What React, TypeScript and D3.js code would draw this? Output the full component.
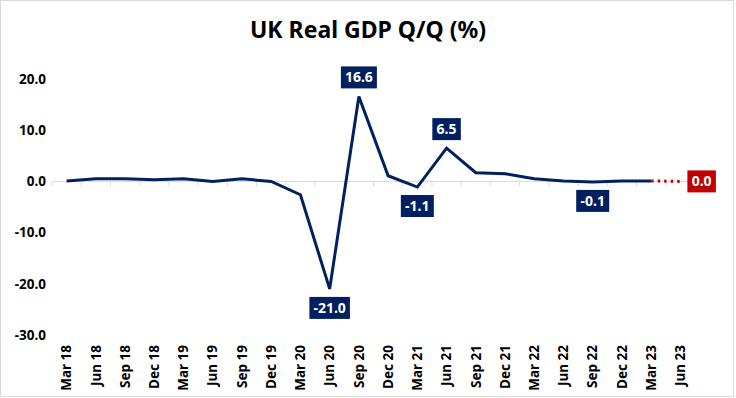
import React from 'react';
import * as d3 from 'd3';

// quarters shown on the axis
const quarters = [
  'Mar 18', 'Jun 18', 'Sep 18', 'Dec 18',
  'Mar 19', 'Jun 19', 'Sep 19', 'Dec 19',
  'Mar 20', 'Jun 20', 'Sep 20', 'Dec 20',
  'Mar 21', 'Jun 21', 'Sep 21', 'Dec 21',
  'Mar 22', 'Jun 22', 'Sep 22', 'Dec 22',
  'Mar 23', 'Jun 23',
];

// actual Q/Q growth, Mar 18 .. Mar 23
const gdpActual = [
  0.1, 0.5, 0.5, 0.3, 0.5, 0.0, 0.5, 0.0,
  -2.6, -21.0, 16.6, 1.1, -1.1, 6.5, 1.7, 1.5,
  0.5, 0.1, -0.1, 0.1, 0.1,
];

// forecast segment (Mar 23 -> Jun 23)
const forecastQuarters = ['Mar 23', 'Jun 23'];
const forecastValues = [0.1, 0.0];

// points that get a value box
const labelledQuarters = ['Jun 20', 'Sep 20', 'Mar 21', 'Jun 21', 'Sep 22'];

const yTicks = [20, 10, 0, -10, -20, -30];

const W = 736;
const H = 398;
const NAVY = '#002060';
const RED = '#C00000';
const FONT = '"Noto Sans", "Open Sans", sans-serif';

// rough width of bold label text
const textWidth = (s: string) =>
  s.split('').reduce((acc, ch) => acc + (ch === '.' ? 3.5 : ch === '-' ? 4.5 : 7.5), 0);

export default function App() {
  const x = d3.scaleBand().domain(quarters).range([52, 695]).padding(0);
  const cx = (q: string) => (x(q) as number) + x.bandwidth() / 2;
  const y = d3.scaleLinear().domain([-30, 20]).range([335, 79]);

  const line = d3
    .line<number>()
    .x((d, i) => cx(quarters[i]))
    .y((d) => y(d));

  const fLine = d3
    .line<number>()
    .x((d, i) => cx(forecastQuarters[i]))
    .y((d) => y(d));

  const boundaries = quarters.map((q) => x(q) as number).concat([695]);

  const boxH = 22;
  const gap = 8;

  return (
    <svg
      width={W}
      height={H}
      style={{ position: 'absolute', left: 0, top: 0, background: '#fff' }}
      fontFamily={FONT}
    >
      <rect x={0.5} y={0.5} width={W - 3} height={H - 2} fill="#fff" stroke="#d9d9d9" />

      {/* title */}
      <text x={368} y={38} textAnchor="middle" fontSize={23} fontWeight="bold" fill="#000">
        UK Real GDP Q/Q (%)
      </text>

      {/* y axis labels */}
      {yTicks.map((t) => (
        <text
          key={t}
          x={46}
          y={y(t)}
          dy="0.35em"
          textAnchor="end"
          fontSize={13.5}
          fontWeight="bold"
          fill="#000"
        >
          {t.toFixed(1)}
        </text>
      ))}

      {/* zero axis and ticks */}
      <line x1={52} x2={695} y1={y(0)} y2={y(0)} stroke="#d9d9d9" strokeWidth={1} />
      {boundaries.map((b, i) => (
        <line key={i} x1={b} x2={b} y1={y(0)} y2={y(0) + 5} stroke="#d9d9d9" />
      ))}

      {/* x labels */}
      {quarters.map((q) => (
        <text
          key={q}
          transform={`translate(${cx(q)},345) rotate(-90)`}
          dy="0.35em"
          textAnchor="end"
          fontSize={13.5}
          fontWeight="bold"
          fill="#000"
        >
          {q}
        </text>
      ))}

      {/* series */}
      <path d={line(gdpActual) || ''} fill="none" stroke={NAVY} strokeWidth={3} strokeLinejoin="miter" />
      <path
        d={fLine(forecastValues) || ''}
        fill="none"
        stroke={RED}
        strokeWidth={3}
        strokeDasharray="2.5 4"
      />

      {/* value boxes */}
      {labelledQuarters.map((q) => {
        const v = gdpActual[quarters.indexOf(q)];
        const s = v.toFixed(1);
        const w = textWidth(s) + 10;
        const px = cx(q);
        const py = y(v);
        const top = v > 0 ? py - gap - boxH : py + gap;
        return (
          <g key={q}>
            <rect x={px - w / 2} y={top} width={w} height={boxH} fill={NAVY} />
            <text
              x={px}
              y={top + boxH / 2}
              dy="0.36em"
              textAnchor="middle"
              fontSize={14}
              fontWeight="bold"
              fill="#fff"
            >
              {s}
            </text>
          </g>
        );
      })}

      {/* forecast box */}
      {(() => {
        const q = forecastQuarters[1];
        const v = forecastValues[1];
        const s = v.toFixed(1);
        const w = textWidth(s) + 10;
        const left = cx(q) + 7;
        const top = y(v) - boxH / 2;
        return (
          <g>
            <rect x={left} y={top} width={w} height={boxH} fill={RED} />
            <text
              x={left + w / 2}
              y={top + boxH / 2}
              dy="0.36em"
              textAnchor="middle"
              fontSize={14}
              fontWeight="bold"
              fill="#fff"
            >
              {s}
            </text>
          </g>
        );
      })()}
    </svg>
  );
}
